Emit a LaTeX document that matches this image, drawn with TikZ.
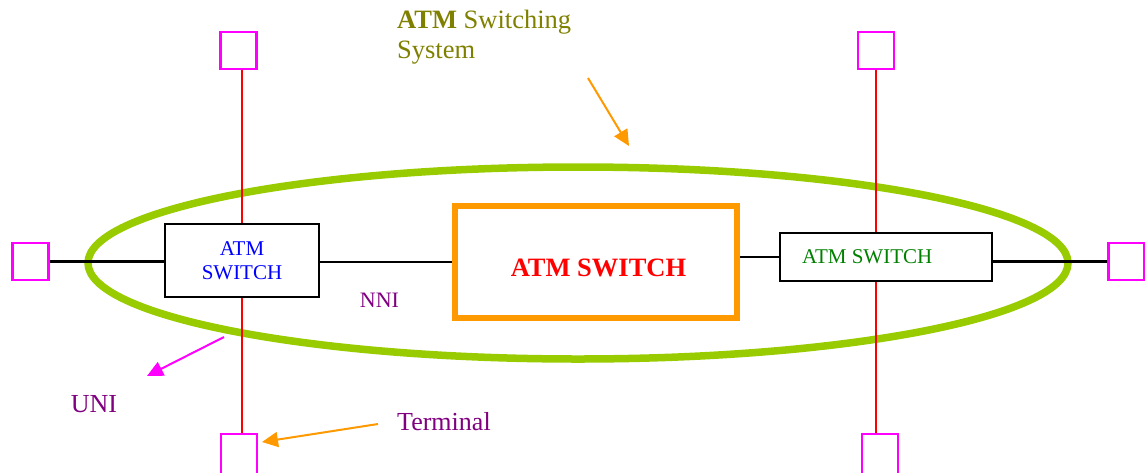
\documentclass[tikz,border=0pt]{standalone}
\usepackage{fontspec}
\setmainfont{Liberation Serif}
\usetikzlibrary{arrows.meta}
\definecolor{termc}{HTML}{FF00FF}
\definecolor{ygreen}{HTML}{99CC00}
\definecolor{orng}{HTML}{FF9900}
\definecolor{purp}{HTML}{800080}
\definecolor{olivec}{HTML}{808000}
\definecolor{darkgr}{HTML}{008000}
\tikzset{
  term/.style={draw=termc,line width=2.5pt,minimum width=36pt,minimum height=37pt,inner sep=0pt},
  termtall/.style={term,minimum height=40pt},
  swbox/.style={draw=black,line width=2.5pt,inner sep=0pt,align=center},
  link/.style={draw=black,line width=2.3pt},
  uplink/.style={draw=red,line width=2.3pt},
  lbl/.style={text=purp,font=\fontsize{26pt}{28pt}\selectfont,inner sep=0pt},
  pointer/.style={line width=2pt,-{Triangle[length=16pt,width=15pt]}},
}
\begin{document}
\begin{tikzpicture}[x=1pt,y=-1pt]
\useasboundingbox (0,0) rectangle (1145,472);
% ellipse
\draw[ygreen,line width=7.5pt] (578,263) ellipse [x radius=490, y radius=96];
% terminals
\node[term] (tl) at (238.5,50.5) {};
\node[term] (lt) at (30.5,261.5) {};
\node[termtall] (bl) at (239,454) {};
\node[term] (tr) at (876,50.5) {};
\node[term] (rt) at (1126.5,261.5) {};
\node[termtall] (br) at (880,454) {};
% switches
\node[swbox,minimum width=154pt,minimum height=73pt,text=blue,font=\fontsize{21pt}{24pt}\selectfont] (lsw) at (242,260.5) {ATM\\SWITCH};
\node[draw=orng,line width=6pt,minimum width=282pt,minimum height=112pt,inner sep=0pt] (big) at (596,262) {};
\node[text=red,font=\bfseries\fontsize{26.5pt}{30pt}\selectfont,inner sep=0pt] (bigt) at (598.5,268) {ATM SWITCH};
\node[swbox,minimum width=212pt,minimum height=48pt] (rsw) at (886,257) {};
\node[text=darkgr,font=\fontsize{21pt}{24pt}\selectfont,inner sep=0pt,anchor=west] (rswt) at (802,257) {ATM SWITCH};
% links
\path[link] (lt.east) -- (lt.east -| lsw.west);
\path[link] (lsw.east |- big.west) -- (big.west);
\path[link] (big.east |- rsw.west) -- (rsw.west);
\path[link] (rsw.east |- rt.west) -- (rt.west);
\path[uplink] (tl.south -| lsw.north) -- (lsw.north);
\path[uplink] (lsw.south) -- (lsw.south |- bl.north);
\path[uplink] (tr.south) -- (tr.south |- rsw.north);
\path[uplink] (tr.south |- rsw.south) -- (tr.south |- br.north);
% labels
\node[text=purp,font=\fontsize{22pt}{24pt}\selectfont,inner sep=0pt] (nni) at (379.5,300) {NNI};
\node[lbl] (uni) at (94,404) {UNI};
\node[lbl,anchor=west] (termlbl) at (397,422) {Terminal};
\node[text=olivec,font=\fontsize{26.5pt}{30pt}\selectfont,align=left,inner sep=0pt,anchor=north west] (sys) at (397,10) {\textbf{ATM} Switching\\System};
% pointers
\coordinate (unifrom) at (224,337);
\coordinate (unito) at (147,376);
\draw[pointer,termc] (unifrom) -- (unito);
\coordinate (termfrom) at (378,424);
\coordinate (termto) at (262,442);
\draw[pointer,orng] (termfrom) -- (termto);
\coordinate (sysfrom) at (588,78);
\coordinate (systo) at (629,146);
\draw[pointer,orng] (sysfrom) -- (systo);
\end{tikzpicture}
\end{document}
